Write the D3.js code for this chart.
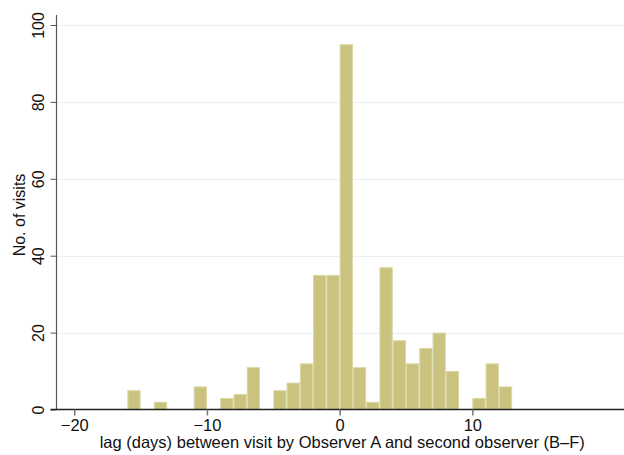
<!DOCTYPE html>
<html>
<head>
<meta charset="utf-8">
<script src="https://cdn.jsdelivr.net/npm/d3@7"></script>
<style>
  html, body { margin: 0; padding: 0; background: #fff; }
  svg { display: block; }
  text { font-family: "Liberation Sans", Arial, Helvetica, sans-serif; fill: #111; }
</style>
</head>
<body>
<svg id="chart" width="624" height="455"></svg>
<script>
// Histogram of lag (days) between visits: left edge of each 1-day bin and its count
const binStart = [-16, -14, -11, -9, -8, -7, -5, -4, -3, -2, -1, 0, 1, 2, 3, 4, 5, 6, 7, 8, 10, 11, 12];
const visits   = [  5,   2,   6,  3,  4, 11,  5,  7, 12, 35, 35, 95, 11, 2, 37, 18, 12, 16, 20, 10, 3, 12, 6];
const xTicks = [-20, -10, 0, 10];
const yTicks = [0, 20, 40, 60, 80, 100];
const xTitle = "lag (days) between visit by Observer A and second observer (B\u2013F)";
const yTitle = "No. of visits";

const plotLeft = 56.5, plotRight = 624, plotTop = 15, plotBottom = 409.5;
const fontFamily = "'Liberation Sans', Arial, sans-serif";

const svg = d3.select("#chart");

const x = d3.scaleLinear().domain([-21.34, 21.43]).range([plotLeft, plotRight]);
const y = d3.scaleLinear().domain([0, 102.6]).range([plotBottom, plotTop]);

// horizontal grid
svg.append("g")
  .selectAll("line")
  .data(yTicks.filter(d => d > 0))
  .join("line")
  .attr("x1", plotLeft).attr("x2", plotRight)
  .attr("y1", d => Math.round(y(d)) + 0.5).attr("y2", d => Math.round(y(d)) + 0.5)
  .attr("stroke", "#e8f0f2").attr("stroke-width", 1);

// bars
svg.append("g")
  .selectAll("rect")
  .data(binStart.map((b, i) => ({ b, v: visits[i] })))
  .join("rect")
  .attr("x", d => x(d.b) + 0.5)
  .attr("width", d => x(d.b + 1) - x(d.b) - 1)
  .attr("y", d => y(d.v) + 0.5)
  .attr("height", d => y(0) - y(d.v) - 0.5)
  .attr("fill", "#cac27f")
  .attr("stroke", "#dcd6a2")
  .attr("stroke-width", 1);

// y axis
const yAxis = d3.axisLeft(y).tickValues(yTicks).tickSize(6).tickPadding(4).tickFormat(d3.format("d"));
const gy = svg.append("g").attr("transform", `translate(${plotLeft},0)`).call(yAxis);
gy.select(".domain").attr("d", `M0,${plotTop}V${plotBottom}`).attr("stroke", "#555").attr("stroke-width", 1.2);
gy.selectAll(".tick line").attr("stroke", "#555");
gy.selectAll(".tick text")
  .attr("font-size", 16)
  .attr("transform", "rotate(-90)")
  .attr("x", 0).attr("y", -12.5)
  .attr("dy", 0)
  .attr("text-anchor", "middle")
  .style("font-family", fontFamily);

// x axis
const xAxis = d3.axisBottom(x).tickValues(xTicks).tickSize(6).tickPadding(4)
  .tickFormat(d => d < 0 ? "\u2212" + Math.abs(d) : String(d));
const gx = svg.append("g").attr("transform", `translate(0,${plotBottom})`).call(xAxis);
gx.select(".domain").attr("d", `M${plotLeft - 6},0H${plotRight}`).attr("stroke", "#222").attr("stroke-width", 1.4);
gx.selectAll(".tick line").attr("stroke", "#777").attr("stroke-width", 1.5);
gx.selectAll(".tick text").attr("font-size", 16.5).attr("dy", "0.71em")
  .style("font-family", fontFamily);

// titles
svg.append("text")
  .attr("x", (plotLeft + plotRight) / 2 + 2).attr("y", 448)
  .attr("text-anchor", "middle").attr("font-size", 16.5)
  .text(xTitle);

svg.append("text")
  .attr("transform", "translate(24.5,215) rotate(-90)")
  .attr("text-anchor", "middle").attr("font-size", 16)
  .text(yTitle);
</script>
</body>
</html>
